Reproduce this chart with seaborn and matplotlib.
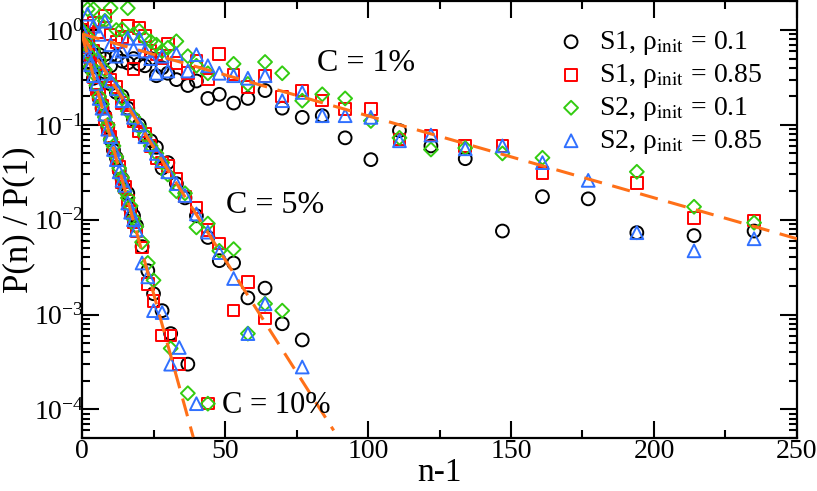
import numpy as np
import pandas as pd
import matplotlib
matplotlib.use("Agg")
import matplotlib.pyplot as plt
import seaborn as sns
from matplotlib.ticker import MultipleLocator, LogLocator

nan = np.nan

# ---- C = 1% ----
x_c1 = [0, 2, 4, 6, 8, 10, 12, 14, 16, 18, 20, 22, 24, 26, 28, 30, 33, 37, 40, 44, 48, 53, 58, 64, 70,
        77, 84, 92, 101, 111, 122, 134, 147, 161, 177, 194, 214, 235]
s1_01_c1 = [1.0, 0.75, 0.6, 0.55, 0.5, 0.42, 0.53, 0.47, 0.45, 0.5, 0.44, 0.42, 0.5, 0.33, 0.4, 0.35, 0.3, 0.26, 0.29,
            0.19, 0.21, 0.17, 0.19, 0.23, 0.15, 0.12, 0.125, 0.073, 0.043, 0.087, 0.06, 0.044, 0.0076, 0.0175,
            0.0166, 0.0073, 0.0068, 0.0076]
s1_085_c1 = [1.0, 1.1, 1.2, 0.95, 1.4, 0.9, 0.75, 0.85, 1.1, 0.39, 1.05, 0.86, 0.6, 0.55, 0.5, 0.71, 0.45, 0.35, 0.47,
             0.3, 0.56, 0.34, 0.25, 0.33, 0.2, 0.23, 0.18, 0.147, 0.147, 0.07, 0.077, 0.06, 0.06, 0.031,
             nan, 0.0245, 0.0105, 0.0098]
s2_01_c1 = [1.0, 1.66, 1.66, 1.2, 1.25, 1.7, 1.0, 1.02, 1.7, 0.9, 0.98, 0.82, 0.76, 0.7, 0.6, 0.65, 0.76, 0.53, 0.42,
            0.35, nan, 0.44, 0.27, 0.46, 0.35, 0.18, 0.21, 0.19, 0.11, 0.073, 0.055, 0.057, 0.05, 0.045,
            nan, 0.032, 0.0137, 0.0093]
s2_085_c1 = [1.0, 1.47, 1.1, 0.9, 1.24, 0.7, 0.53, 0.6, 0.82, 0.63, 0.82, 0.6, 0.5, 0.35, 0.53, 0.37, 0.56, 0.37, 0.55,
             0.42, 0.35, 0.33, 0.31, 0.33, 0.18, 0.22, 0.125, 0.125, 0.12, 0.068, 0.078, 0.056, 0.06, 0.04,
             0.026, 0.0073, 0.0047, 0.0063]

# ---- C = 5% ----
x_c5 = [0, 2, 4, 6, 8, 10, 12, 14, 16, 18, 20, 22, 24, 26, 28, 30, 33, 36, 40, 44, 48, 53, 58, 64, 70, 77]
s1_01_c5 = [1.0, 0.75, 0.55, 0.42, 0.36, 0.27, 0.22, 0.2, 0.15, 0.115, 0.1, 0.075, 0.068, 0.058, 0.035, 0.04, 0.024,
            0.017, 0.011, 0.0065, 0.0037, 0.0035, 0.0015, 0.0019, 0.0008, 0.00054]
s1_085_c5 = [1.0, 0.8, 0.6, 0.45, 0.33, 0.3, 0.25, 0.17, 0.16, 0.11, 0.085, 0.08, 0.06, 0.045, 0.04, 0.037, 0.027,
             0.0175, 0.0135, 0.0078, 0.0056, 0.0011, 0.0022, 0.00091, nan, nan]
s2_01_c5 = [1.0, 0.85, 0.62, 0.48, 0.38, 0.28, 0.23, 0.19, 0.14, 0.12, 0.095, 0.078, 0.06, 0.05, 0.04, 0.03, 0.02,
            0.019, 0.0083, 0.0091, 0.0047, 0.0049, 0.00063, 0.0013, 0.0011, nan]
s2_085_c5 = [1.0, 0.78, 0.6, 0.47, 0.35, 0.29, 0.24, 0.18, 0.15, 0.12, 0.1, 0.075, 0.062, 0.05, 0.042, 0.032, 0.024,
             0.018, 0.0115, 0.0074, 0.0045, 0.0024, 0.00063, 0.0013, nan, 0.00028]

# ---- C = 10% ----
x_c10 = [0, 1, 2, 3, 4, 5, 6, 7, 8, 9, 10, 11, 12, 13, 14, 15, 16, 17, 18, 19, 21, 23, 25, 28, 31, 34, 37, 40, 44]
s1_01_c10 = [1.0, 0.7, 0.52, 0.4, 0.31, 0.25, 0.19, 0.15, 0.125, 0.095, 0.07, 0.054, 0.045, 0.033, 0.027, 0.021,
             0.019, 0.013, 0.011, 0.0087, 0.0052, 0.0029, 0.00166, 0.0011, 0.00063, nan, 0.0003, nan, nan]
s1_085_c10 = [1.0, 0.66, 0.55, 0.44, 0.32, 0.24, 0.21, 0.16, 0.115, 0.09, 0.075, 0.058, 0.042, 0.036, 0.025, 0.022,
              0.016, 0.012, 0.0095, 0.0076, 0.0051, 0.0021, 0.0014, 0.0006, 0.0006, 0.0003, nan, nan, 0.000115]
s2_01_c10 = [1.0, 0.72, 0.57, 0.41, 0.35, 0.26, 0.2, 0.165, 0.12, 0.1, 0.07, 0.06, 0.046, 0.035, 0.028, 0.02,
             0.017, 0.014, 0.0102, 0.0085, 0.0058, 0.0035, 0.0023, nan, 0.00044, nan, 0.000148, nan, 0.000115]
s2_085_c10 = [1.0, 0.68, 0.53, 0.43, 0.33, 0.27, 0.19, 0.15, 0.13, 0.09, 0.075, 0.055, 0.043, 0.032, 0.026, 0.023,
              0.015, 0.012, 0.01, 0.0078, 0.0035, 0.0025, 0.0011, 0.00105, 0.0003, 0.00045, nan, 0.000115, nan]

# exponential fits (straight dashed lines on log axis), end points
fit_x = {"1%": [0, 250], "5%": [0, 88], "10%": [0, 38.9]}
fit_y = {"1%": [0.91, 0.0063], "5%": [0.89, 6.0e-5], "10%": [0.89, 5.1e-5]}

labels = [r"S1, ρ$_{\rm init}$ = 0.1", r"S1, ρ$_{\rm init}$ = 0.85",
          r"S2, ρ$_{\rm init}$ = 0.1", r"S2, ρ$_{\rm init}$ = 0.85"]
colors = ["black", "#ff0000", "#33cc11", "#3070ff"]
markers = ["o", "s", "D", "^"]
msizes = [85, 70, 50, 85]

sns.set_style("ticks")
plt.rcParams["font.family"] = ["Liberation Serif", "DejaVu Serif"]
plt.rcParams["mathtext.fontset"] = "stix"
for k in ["axes.edgecolor", "xtick.color", "ytick.color", "text.color", "axes.labelcolor"]:
    plt.rcParams[k] = "black"

fig = plt.figure(figsize=(8.17, 4.91), dpi=100)
ax = fig.add_axes([0.1004, 0.108, 0.8751, 0.889])

groups = [(x_c1, [s1_01_c1, s1_085_c1, s2_01_c1, s2_085_c1]),
          (x_c5, [s1_01_c5, s1_085_c5, s2_01_c5, s2_085_c5]),
          (x_c10, [s1_01_c10, s1_085_c10, s2_01_c10, s2_085_c10])]

for gi, (xs, series) in enumerate(groups):
    for si, ys in enumerate(series):
        df = pd.DataFrame({"x": xs, "y": ys}).dropna()
        sns.scatterplot(data=df, x="x", y="y", ax=ax, marker=markers[si], s=msizes[si],
                        facecolor="none", edgecolor=colors[si], linewidth=1.4,
                        label=labels[si] if gi == 0 else None, zorder=2)

for key in fit_x:
    df = pd.DataFrame({"x": fit_x[key], "y": fit_y[key]})
    sns.lineplot(data=df, x="x", y="y", ax=ax, color="#ff7018", lw=2.2,
                 dashes=False, zorder=3).lines[-1].set_dashes([6, 3.5])

ax.set_yscale("log")
ax.set_xlim(0, 250)
ax.set_ylim(5e-5, 2.0)
ax.xaxis.set_major_locator(MultipleLocator(50))
ax.xaxis.set_minor_locator(MultipleLocator(25))
ax.yaxis.set_major_locator(LogLocator(base=10, numticks=10))
ax.yaxis.set_minor_locator(LogLocator(base=10, subs=np.arange(2, 10), numticks=20))
ax.tick_params(which="both", direction="in", top=True, right=True, width=1.5, labelsize=20)
ax.tick_params(axis="x", pad=1)
ax.tick_params(axis="y", pad=-1.5)
ax.tick_params(which="major", length=12)
ax.tick_params(which="minor", length=6)
for sp in ax.spines.values():
    sp.set_linewidth(1.6)
    sp.set_color("black")

ax.set_xlabel("n-1", fontsize=24)
ax.set_ylabel("P(n) / P(1)", fontsize=25)
ax.xaxis.set_label_coords(0.5, -0.045)
ax.yaxis.set_label_coords(-0.066, 0.5)

ax.text(82, 0.44, "C = 1%", fontsize=23, va="center")
ax.text(50.5, 0.014, "C = 5%", fontsize=23, va="center")
ax.text(49, 1.1e-4, "C = 10%", fontsize=22, va="center")

ax.legend(loc="upper right", bbox_to_anchor=(0.975, 0.975), frameon=False, fontsize=20,
          handletextpad=0.4, labelspacing=0.18, borderaxespad=0.2, handlelength=1.2)

plt.savefig("out.png", dpi=100)
